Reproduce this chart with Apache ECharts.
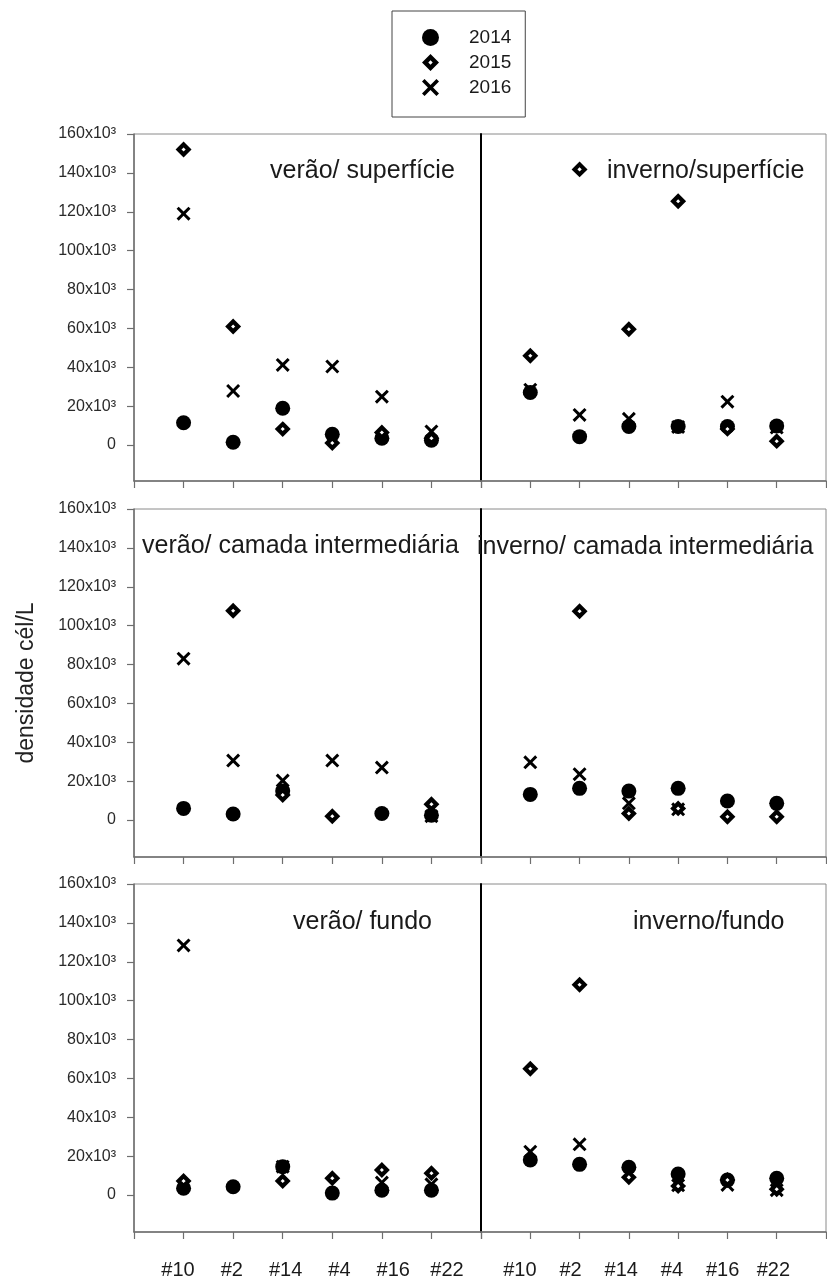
<!DOCTYPE html>
<html>
<head>
<meta charset="utf-8">
<script src="https://cdn.jsdelivr.net/npm/echarts@6/dist/echarts.min.js"></script>
<style>
html,body{margin:0;padding:0;background:#fff;}
#chart{width:827px;height:1280px;}
</style>
</head>
<body>
<div id="chart"></div>
<script>
// ---- data ----
const stations = ['#10', '#2', '#14', '#4', '#16', '#22'];
const years = ['2014', '2015', '2016'];
const yTicks = [0, 20000, 40000, 60000, 80000, 100000, 120000, 140000, 160000];
const panelTitles = ['verão/ superfície', 'inverno/superfície', 'verão/ camada intermediária', 'inverno/ camada intermediária', 'verão/ fundo', 'inverno/fundo'];
const yAxisTitle = 'densidade cél/L';

// verão / superfície
const verSup2014 = [11500, 1400, 18900, 5500, 3500, 2500];
const verSup2015 = [152000, 61000, 8200, 1000, 6500, 3500];
const verSup2016 = [119000, 27800, 41200, 40400, 24900, 7000];
// inverno / superfície
const invSup2014 = [27000, 4300, 9500, 9500, 9500, 9800];
const invSup2015 = [45900, 141800, 59600, 125400, 8300, 2000];
const invSup2016 = [28500, 15500, 13500, 9300, 22300, 9000];
// verão / camada intermediária
const verInt2014 = [6000, 3100, 15000, null, 3400, 2500];
const verInt2015 = [null, 107700, 12900, 2000, null, 8100];
const verInt2016 = [83000, 30600, 20300, 30600, 27000, 2000];
// inverno / camada intermediária
const invInt2014 = [13200, 16300, 14900, 16300, 9800, 8600];
const invInt2015 = [null, 107400, 3400, 6000, 1700, 1700];
const invInt2016 = [29700, 23600, 8600, 5500, null, null];
// verão / fundo
const verFun2014 = [3500, 4300, 14600, 1000, 2500, 2500];
const verFun2015 = [7200, null, 7200, 8600, 12900, 11200];
const verFun2016 = [128400, null, 14600, null, 6400, 5500];
// inverno / fundo
const invFun2014 = [18000, 15800, 14300, 10800, 7700, 8600];
const invFun2015 = [65000, 108200, 9100, 4600, 7700, 3000];
const invFun2016 = [22300, 26100, null, 5000, 5200, 2500];

const panelData = [
  [verSup2014, verSup2015, verSup2016],
  [invSup2014, invSup2015, invSup2016],
  [verInt2014, verInt2015, verInt2016],
  [invInt2014, invInt2015, invInt2016],
  [verFun2014, verFun2015, verFun2016],
  [invFun2014, invFun2015, invFun2016]
];

// ---- layout ----
const colLeft = [134, 481];
const colWidth = [347, 345];
const rowTop = [134, 509, 884];
const rowBottom = [481, 857, 1232];
const rowMin = [-18500, -19000, -19000];
const titlePos = [[270, 159], [607, 159], [142, 534], [477, 535], [293, 910], [633, 910]];

const FONT = 'Liberation Sans, Arial, Helvetica, sans-serif';
const axisGray = '#6e6e6e';
const X_PATH = 'path://M-10,-7L-7,-10L0,-3L7,-10L10,-7L3,0L10,7L7,10L0,3L-7,10L-10,7L-3,0Z';
const DIAMOND_HOLE = 'path://M0,-10L10,0L0,10L-10,0Z M0,-2.6L-2.6,0L0,2.6L2.6,0Z';

const grids = [], xAxes = [], yAxes = [], series = [], titles = [];

for (let p = 0; p < 6; p++) {
  const r = Math.floor(p / 2), c = p % 2;
  grids.push({
    left: colLeft[c], width: colWidth[c], top: rowTop[r], height: rowBottom[r] - rowTop[r],
    show: true, borderColor: '#8a8a8a', borderWidth: 1, backgroundColor: 'transparent'
  });
  xAxes.push({
    gridIndex: p, type: 'value', min: 0, max: 7, interval: 1,
    axisLine: { show: true, onZero: false, lineStyle: { color: axisGray, width: 1.5 } },
    axisTick: { show: true, length: 7, lineStyle: { color: axisGray, width: 1.2 } },
    axisLabel: { show: false }, splitLine: { show: false }
  });
  if (c === 0) {
    const ya = {
      gridIndex: p, type: 'value', min: rowMin[r], max: 160000,
      axisLine: { show: true, lineStyle: { color: axisGray, width: 1.5 } },
      axisTick: { show: true, length: 7, customValues: yTicks, lineStyle: { color: axisGray, width: 1.2 } },
      axisLabel: {
        customValues: yTicks, margin: 18, fontSize: 16, color: '#2a2a2a', fontFamily: FONT,
        formatter: v => (v === 0 ? '0' : (v / 1000) + 'x10³')
      },
      splitLine: { show: false }
    };
    if (p === 2) {
      ya.name = yAxisTitle;
      ya.nameLocation = 'middle';
      ya.nameGap = 96;
      ya.nameTextStyle = { fontSize: 23, color: '#222', fontFamily: FONT };
    }
    yAxes.push(ya);
  } else {
    yAxes.push({
      gridIndex: p, type: 'value', min: rowMin[r], max: 160000,
      axisLine: { show: true, lineStyle: { color: '#000', width: 2 } },
      axisTick: { show: false }, axisLabel: { show: false }, splitLine: { show: false }
    });
  }
  titles.push({
    text: panelTitles[p], left: titlePos[p][0], top: titlePos[p][1], padding: 0,
    textStyle: { fontSize: 25, fontWeight: 'normal', color: '#1a1a1a', fontFamily: FONT }
  });

  const vals = panelData[p];
  const toPts = arr => arr.map((v, i) => (v === null ? null : [i + 1, v])).filter(d => d !== null);
  series.push({
    name: years[0], type: 'scatter', xAxisIndex: p, yAxisIndex: p, z: 2,
    symbol: 'circle', symbolSize: 15, itemStyle: { color: '#000', opacity: 1 }, data: toPts(vals[0])
  });
  series.push({
    name: years[2], type: 'scatter', xAxisIndex: p, yAxisIndex: p, z: 3,
    symbol: X_PATH, symbolSize: 14, itemStyle: { color: '#000', opacity: 1 }, data: toPts(vals[2])
  });
  series.push({
    name: years[1], type: 'scatter', xAxisIndex: p, yAxisIndex: p, z: 4,
    symbol: 'diamond', symbolSize: 10,
    itemStyle: { color: '#fff', borderColor: '#000', borderWidth: 4.2, borderJoin: 'miter', opacity: 1 },
    data: toPts(vals[1])
  });
}

// label-only axes for station names (bottom row)
const labelGridLeft = [124.2, 469.2];
for (let c = 0; c < 2; c++) {
  const gi = grids.length;
  grids.push({ left: labelGridLeft[c], width: 376.6, top: 1250, height: 8, show: false });
  xAxes.push({
    gridIndex: gi, type: 'value', min: 0, max: 7, interval: 1,
    axisLine: { show: false }, axisTick: { show: false }, splitLine: { show: false },
    axisLabel: {
      show: true, margin: 2, fontSize: 20, color: '#1a1a1a', fontFamily: FONT,
      formatter: v => stations[v - 1] || ''
    }
  });
  yAxes.push({ gridIndex: gi, type: 'value', min: 0, max: 1, show: false });
}

const chart = echarts.init(document.getElementById('chart'), null, { renderer: 'canvas' });
chart.setOption({
  animation: false,
  backgroundColor: '#fff',
  textStyle: { fontFamily: FONT },
  title: titles,
  legend: {
    left: 392, top: 11, orient: 'vertical',
    padding: [17, 14, 20, 30],
    itemWidth: 17, itemHeight: 17, itemGap: 6,
    borderColor: '#444', borderWidth: 1,
    formatter: '{t|{name}}',
    textStyle: { fontSize: 19, color: '#1a1a1a', rich: { t: { fontSize: 19, color: '#1a1a1a', padding: [0, 0, 0, 25], fontFamily: FONT } } },
    data: [
      { name: '2014', icon: 'circle', itemStyle: { color: '#000', opacity: 1 } },
      { name: '2015', icon: DIAMOND_HOLE, itemStyle: { color: '#000', borderWidth: 0, opacity: 1 } },
      { name: '2016', icon: X_PATH, itemStyle: { color: '#000', opacity: 1 } }
    ]
  },
  grid: grids,
  xAxis: xAxes,
  yAxis: yAxes,
  series: series
});
</script>
</body>
</html>
